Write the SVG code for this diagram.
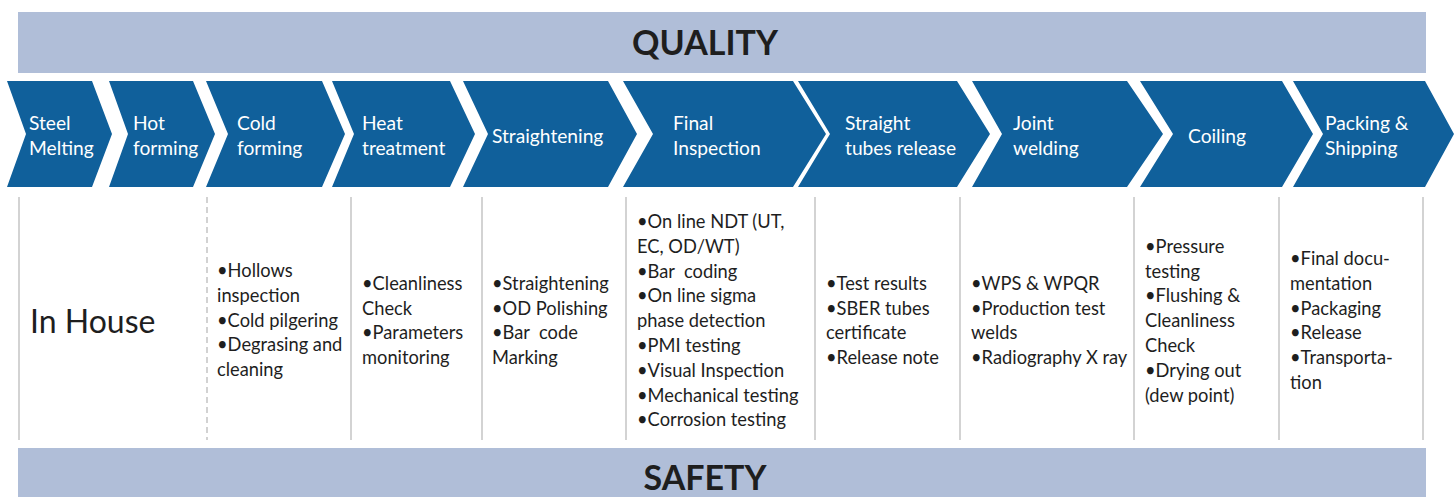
<svg xmlns="http://www.w3.org/2000/svg" width="1454" height="497" viewBox="0 0 1454 497">
<style>
  .bar { fill: #b0bed8; }
  .bartxt { font-family: Lato, "Liberation Sans", sans-serif; font-weight: bold; font-size: 34px; fill: #1e1e1e; text-anchor: middle; }
  .chev { fill: #10609b; }
  .lbl { font-family: Lato, "Liberation Sans", sans-serif; font-size: 19.2px; fill: #ffffff; white-space: pre; }
  .body { font-family: Lato, "Liberation Sans", sans-serif; font-size: 18.3px; fill: #1e1e1e; white-space: pre; }
  .big { font-family: Lato, "Liberation Sans", sans-serif; font-size: 32px; fill: #1e1e1e; }
  .div { stroke: #c4c4c4; stroke-width: 1.5; fill: none; }
  .dash { stroke-dasharray: 6 4; }
</style>
<rect width="1454" height="497" fill="#ffffff"/>

<g id="quality">
  <rect class="bar" x="18" y="12" width="1408" height="61"/>
  <text class="bartxt" x="705" y="55">QUALITY</text>
</g>

<g id="safety">
  <rect class="bar" x="18" y="448" width="1408" height="52"/>
  <text class="bartxt" x="705" y="490">SAFETY</text>
</g>

<g id="step-steel-melting">
  <polygon class="chev" points="7,81 92,81 112,134 92,187 7,187 26,134"/>
  <text class="lbl"><tspan x="29" y="130">Steel</tspan><tspan x="29" y="155">Melting</tspan></text>
</g>
<g id="step-hot-forming">
  <polygon class="chev" points="109,81 193,81 215,134 193,187 109,187 128,134"/>
  <text class="lbl"><tspan x="133" y="130">Hot</tspan><tspan x="133" y="155">forming</tspan></text>
</g>
<g id="step-cold-forming">
  <polygon class="chev" points="206,81 322,81 345,134 322,187 206,187 228,134"/>
  <text class="lbl"><tspan x="237" y="130">Cold</tspan><tspan x="237" y="155">forming</tspan></text>
</g>
<g id="step-heat-treatment">
  <polygon class="chev" points="332,81 450,81 475,134 450,187 332,187 354,134"/>
  <text class="lbl"><tspan x="362" y="130">Heat</tspan><tspan x="362" y="155">treatment</tspan></text>
</g>
<g id="step-straightening">
  <polygon class="chev" points="463,81 608,81 637,134 608,187 463,187 488,134"/>
  <text class="lbl" x="492" y="143">Straightening</text>
</g>
<g id="step-final-inspection">
  <polygon class="chev" points="623,81 793,81 826,134 793,187 623,187 653,134"/>
  <text class="lbl"><tspan x="673" y="130">Final</tspan><tspan x="673" y="155">Inspection</tspan></text>
</g>
<g id="step-straight-tubes-release">
  <polygon class="chev" points="798,81 957,81 990,134 957,187 798,187 830,134"/>
  <text class="lbl"><tspan x="845" y="130">Straight</tspan><tspan x="845" y="155">tubes release</tspan></text>
</g>
<g id="step-joint-welding">
  <polygon class="chev" points="972,81 1127,81 1163,134 1127,187 972,187 1002,134"/>
  <text class="lbl"><tspan x="1013" y="130">Joint</tspan><tspan x="1013" y="155">welding</tspan></text>
</g>
<g id="step-coiling">
  <polygon class="chev" points="1140,81 1282,81 1313,134 1282,187 1140,187 1173,134"/>
  <text class="lbl" x="1188" y="143">Coiling</text>
</g>
<g id="step-packing-shipping">
  <polygon class="chev" points="1293,81 1425,81 1454,134 1425,187 1293,187 1323,134"/>
  <text class="lbl"><tspan x="1325" y="130">Packing &amp;</tspan><tspan x="1325" y="155">Shipping</tspan></text>
</g>

<g id="dividers">
  <line class="div" x1="19" y1="197" x2="19" y2="440"/>
  <line class="div dash" x1="207" y1="197" x2="207" y2="440"/>
  <line class="div" x1="351" y1="197" x2="351" y2="440"/>
  <line class="div" x1="482" y1="197" x2="482" y2="440"/>
  <line class="div" x1="626" y1="197" x2="626" y2="440"/>
  <line class="div" x1="815" y1="197" x2="815" y2="440"/>
  <line class="div" x1="960" y1="197" x2="960" y2="440"/>
  <line class="div" x1="1134" y1="197" x2="1134" y2="440"/>
  <line class="div" x1="1279" y1="197" x2="1279" y2="440"/>
  <line class="div" x1="1423" y1="197" x2="1423" y2="440"/>
</g>

<g id="col-in-house">
  <text class="big" x="30" y="333">In House</text>
</g>
<g id="col-cold-forming">
  <text class="body"><tspan x="217" y="277">•Hollows</tspan><tspan x="217" y="302">inspection</tspan><tspan x="217" y="327">•Cold pilgering</tspan><tspan x="217" y="351">•Degrasing and</tspan><tspan x="217" y="376">cleaning</tspan></text>
</g>
<g id="col-heat-treatment">
  <text class="body"><tspan x="362" y="290">•Cleanliness</tspan><tspan x="362" y="315">Check</tspan><tspan x="362" y="339">•Parameters</tspan><tspan x="362" y="364">monitoring</tspan></text>
</g>
<g id="col-straightening">
  <text class="body"><tspan x="492" y="290">•Straightening</tspan><tspan x="492" y="315">•OD Polishing</tspan><tspan x="492" y="339">•Bar  code</tspan><tspan x="492" y="364">Marking</tspan></text>
</g>
<g id="col-final-inspection">
  <text class="body"><tspan x="637" y="228">•On line NDT (UT,</tspan><tspan x="637" y="253">EC, OD/WT)</tspan><tspan x="637" y="278">•Bar  coding</tspan><tspan x="637" y="302">•On line sigma</tspan><tspan x="637" y="327">phase detection</tspan><tspan x="637" y="352">•PMI testing</tspan><tspan x="637" y="377">•Visual Inspection</tspan><tspan x="637" y="402">•Mechanical testing</tspan><tspan x="637" y="426">•Corrosion testing</tspan></text>
</g>
<g id="col-straight-tubes-release">
  <text class="body"><tspan x="826" y="290">•Test results</tspan><tspan x="826" y="315">•SBER tubes</tspan><tspan x="826" y="339">certificate</tspan><tspan x="826" y="364">•Release note</tspan></text>
</g>
<g id="col-joint-welding">
  <text class="body"><tspan x="971" y="290">•WPS &amp; WPQR</tspan><tspan x="971" y="315">•Production test</tspan><tspan x="971" y="339">welds</tspan><tspan x="971" y="364">•Radiography X ray</tspan></text>
</g>
<g id="col-coiling">
  <text class="body"><tspan x="1145" y="253">•Pressure</tspan><tspan x="1145" y="278">testing</tspan><tspan x="1145" y="302">•Flushing &amp;</tspan><tspan x="1145" y="327">Cleanliness</tspan><tspan x="1145" y="352">Check</tspan><tspan x="1145" y="377">•Drying out</tspan><tspan x="1145" y="402">(dew point)</tspan></text>
</g>
<g id="col-packing-shipping">
  <text class="body"><tspan x="1290" y="265">•Final docu-</tspan><tspan x="1290" y="290">mentation</tspan><tspan x="1290" y="315">•Packaging</tspan><tspan x="1290" y="339">•Release</tspan><tspan x="1290" y="364">•Transporta-</tspan><tspan x="1290" y="389">tion</tspan></text>
</g>
</svg>
